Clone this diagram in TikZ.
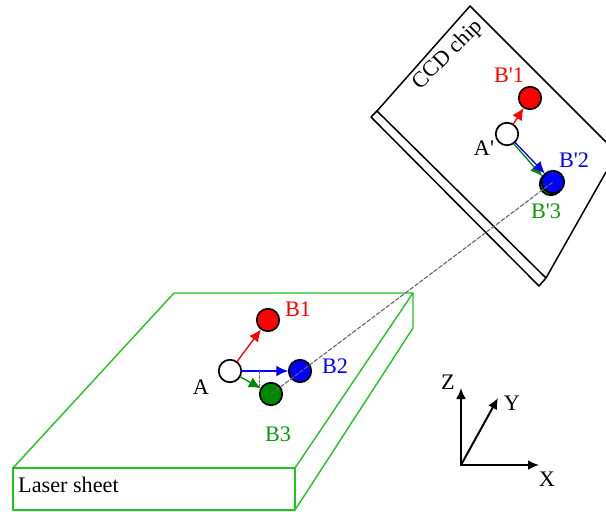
\documentclass[tikz,border=0pt]{standalone}
\usepackage{fontspec}
\setmainfont{Liberation Serif}
\usetikzlibrary{arrows.meta}
\definecolor{pvSheet}{HTML}{1FC41F}
\definecolor{pvGreen}{HTML}{008800}
\definecolor{pvLabel}{HTML}{0A9A0A}
\definecolor{pvRay}{HTML}{666666}
\tikzset{
  pv diagram/.style={font=\fontsize{22.2}{25}\selectfont,
    line cap=round, line join=round},
  pv dot/.style={circle, draw=black, line width=1.7pt, inner sep=0pt,
    minimum size=22.5pt, outer sep=0.5pt},
  pv arrow/.style={-{Latex[length=12pt,width=11pt]}, line width=1.3pt},
  pv sheet/.style={draw=pvSheet, line width=1.4pt},
  pv chip/.style={draw=black, line width=1.5pt},
  pv axis/.style={-{Latex[length=11pt,width=10pt]}, draw=black, line width=2pt},
  pv ray/.style={draw=pvRay, line width=1.1pt, dash pattern=on 4pt off 2pt}
}
\begin{document}
\begin{tikzpicture}[pv diagram,x=1pt,y=-1pt]
\useasboundingbox (0,0) rectangle (606,512);
% laser sheet
\draw[pv sheet] (13,468) -- (174,293) -- (413,293) -- (295,468) -- cycle;
\draw[pv sheet] (13,468) rectangle (295,510);
\draw[pv sheet] (295,510) -- (413,328) -- (413,293);
\node[anchor=west,inner sep=0pt] (sheetlabel) at (18,485) {Laser sheet};
% CCD chip
\draw[pv chip] (606,172) -- (546,278) -- (377,111) -- (470,6) -- (606,142);
\draw[pv chip] (377,111) -- (371,117) -- (539,286) -- (546,278);
\node[rotate=45] (chiplabel) at (448,55) {CCD chip};
% particles
\foreach \name/\x/\y/\col in {ptA/230/371/white,ptBa/268/320/red,ptBb/300/371/blue,ptBc/271/394/pvGreen,
    ptApr/507/134/white,ptBapr/530/98/red,ptBcpr/551/184/pvGreen,ptBbpr/553/182/blue}
  \node[pv dot,fill=\col] (\name) at (\x,\y) {};
% displacements
\draw[pv arrow,draw=red,fill=red] (ptA) -- (ptBa);
\draw[pv arrow,draw=pvGreen,fill=pvGreen] (ptA) -- (ptBc);
\draw[pv arrow,draw=blue,fill=blue,line width=1.7pt] (ptA) -- (ptBb);
\draw[pv arrow,draw=red,fill=red] (ptApr) -- (ptBapr);
\draw[pv arrow,draw=pvGreen,fill=pvGreen,transform canvas={xshift=-1pt,yshift=-1pt}] (ptApr) -- (ptBcpr);
\draw[pv arrow,draw=blue,fill=blue] (ptApr) -- (ptBbpr);
% line of sight
\coordinate (footA) at (259,371);
\coordinate (footB) at (259,388);
\draw[draw=pvRay,line width=0.9pt,dash pattern=on 3pt off 1.5pt] (footA) -- (footB);
\draw[pv ray] (ptBc.center) -- (ptBbpr.center);
% labels
\node[text=red] (labelBa) at (298,309) {B1};
\node[text=blue] (labelBb) at (335,366) {B2};
\node[text=pvLabel] (labelBc) at (278,434) {B3};
\node (labelA) at (201,387) {A};
\node[text=red] (labelBapr) at (509,75) {B\textquotesingle1};
\node[text=blue] (labelBbpr) at (574,160) {B\textquotesingle2};
\node[text=pvLabel] (labelBcpr) at (546,211) {B\textquotesingle3};
\node (labelApr) at (484,148) {A\textquotesingle};
% axes
\coordinate (origin) at (461,465);
\coordinate (tipX) at (539,465);
\coordinate (tipY) at (498,398);
\coordinate (tipZ) at (461,388);
\draw[pv axis] (origin) -- (tipX);
\draw[pv axis] (origin) -- (tipY);
\draw[pv axis] (origin) -- (tipZ);
\node (labelX) at (547,479) {X};
\node (labelY) at (512,403) {Y};
\node (labelZ) at (448,382) {Z};
\end{tikzpicture}
\end{document}
